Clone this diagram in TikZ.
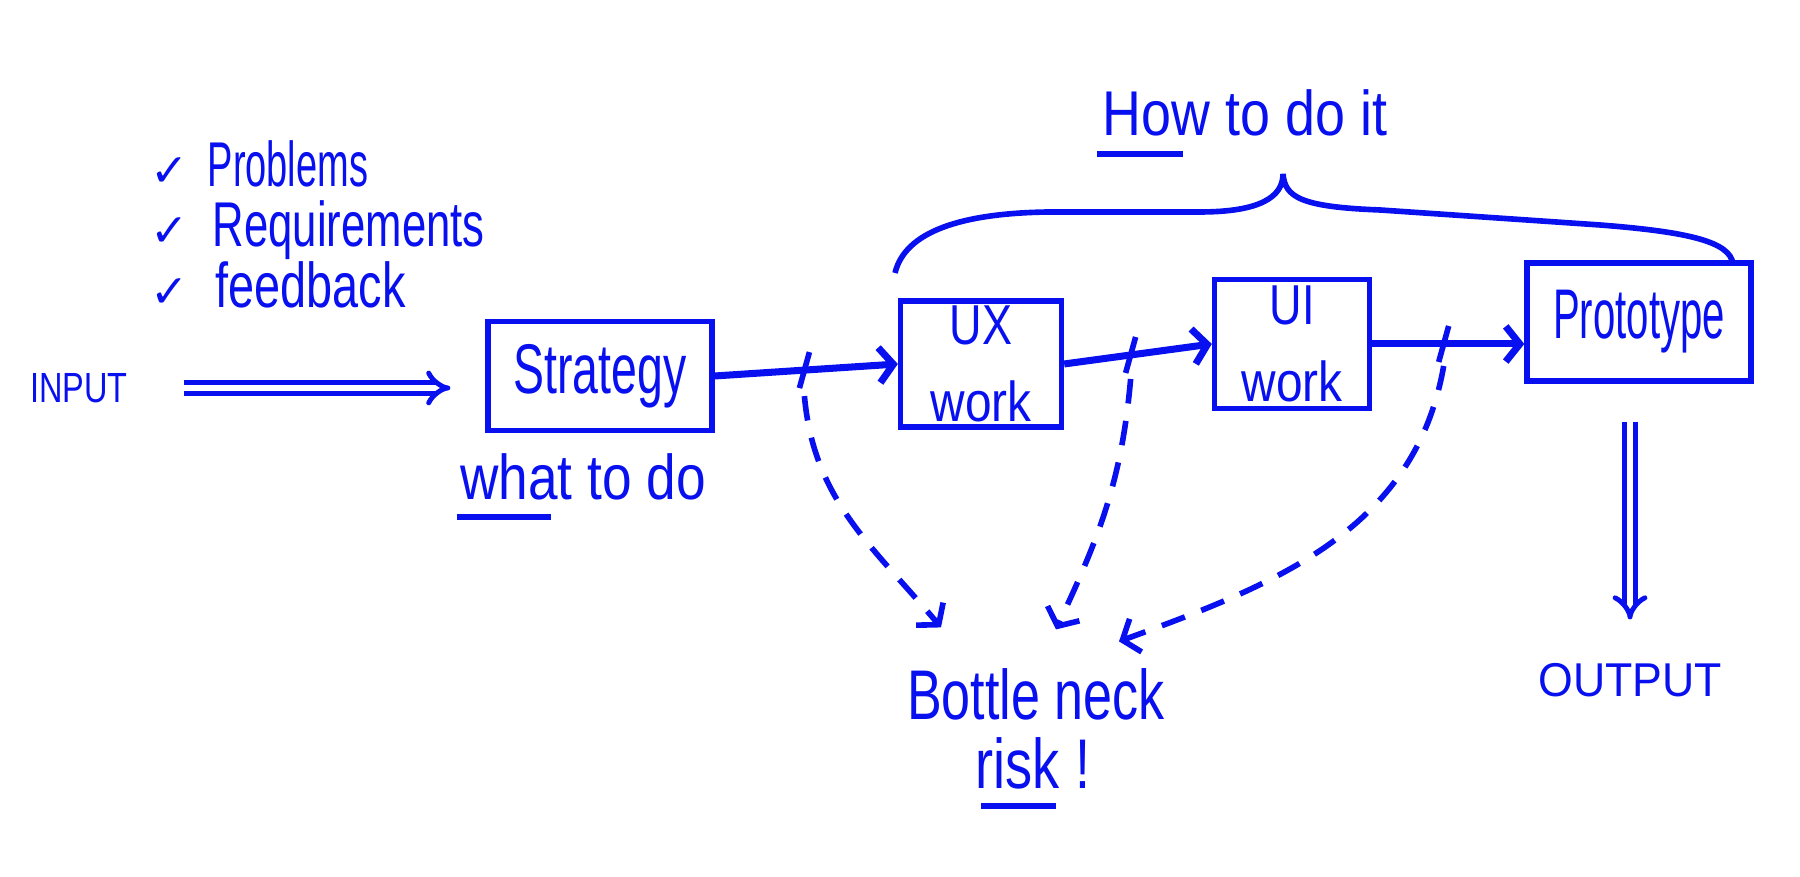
\documentclass[tikz,border=0pt]{standalone}
\usepackage{fontspec}
\setmainfont{Liberation Sans}
\newfontfamily\checkfont{DejaVu Sans}
\usetikzlibrary{calc,arrows.meta}
\definecolor{ink}{RGB}{8,16,240}
\newcommand{\handtxt}[2][0.7]{\scalebox{#1}[1]{#2}}

\begin{document}
\begin{tikzpicture}[x=0.01cm, y=0.01cm, color=ink,
  note/.style={inner sep=2pt},
  box/.style={draw, line width=1.5pt, inner sep=0pt, align=center},
  flow/.style={line width=2pt, -{Straight Barb[length=4pt,width=10pt]}},
  risky/.style={line width=1.6pt, dash pattern=on 7pt off 5pt, -{Straight Barb[length=4pt,width=10pt]}},
  bigflow/.style={double, double distance=1.8pt, line width=1.4pt, -{Implies}},
  tick/.style={line width=1.6pt}]
  \useasboundingbox (0,0) rectangle (1800,877);

  % inputs list
  \node[note, anchor=base] (c1) at (170,690) {\checkfont\fontsize{13}{13}\selectfont ✓};
  \node[note, anchor=base] (c2) at (170,630) {\checkfont\fontsize{13}{13}\selectfont ✓};
  \node[note, anchor=base] (c3) at (170,569) {\checkfont\fontsize{13}{13}\selectfont ✓};
  \node[note, anchor=base west, font=\fontsize{18}{20}\selectfont] (prob) at (200,690) {\handtxt[0.6]{Problems}};
  \node[note, anchor=base west, font=\fontsize{18}{20}\selectfont] (req) at (205,630) {\handtxt[0.69]{Requirements}};
  \node[note, anchor=base west, font=\fontsize{18}{20}\selectfont] (feed) at (208,569) {\handtxt[0.74]{feedback}};

  % main flow
  \node[note, font=\fontsize{12}{14}\selectfont] (input) at (79,489) {\handtxt[0.77]{INPUT}};
  \node[box, minimum width=2.24cm, minimum height=1.09cm, font=\fontsize{20}{24}\selectfont] (strat) at (600,501) {\handtxt[0.66]{Strategy}};
  \node[note, font=\fontsize{18}{20}\selectfont] (what) at (583,400) {\handtxt[0.84]{what to do}};
  \draw[tick] ($(what.south west)+(4,-9)$) -- ++(94,0);

  \node[box, minimum width=1.61cm, minimum height=1.26cm, font=\fontsize{16}{22}\selectfont] (ux) at (981,513) {\handtxt[0.8]{UX}\\\handtxt[0.85]{work}};
  \node[box, minimum width=1.55cm, minimum height=1.29cm, font=\fontsize{16}{22}\selectfont] (ui) at (1292,533) {\handtxt[0.8]{UI}\\\handtxt[0.85]{work}};
  \node[box, minimum width=2.24cm, minimum height=1.18cm, font=\fontsize{20}{24}\selectfont] (proto) at (1639,555) {\handtxt[0.57]{Prototype}};
  \node[note, font=\fontsize{13.5}{16}\selectfont] (output) at (1630,197) {\handtxt[0.94]{OUTPUT}};

  \draw[bigflow, shorten <=0.48cm, shorten >=0.35cm] (input.east) -- (input.east -| strat.west);
  \draw[bigflow, shorten <=0.38cm, shorten >=0.36cm] (proto.south -| output.north) -- (output.north);

  \draw[flow] (strat.east) -- coordinate[pos=0.49] (t1) (ux.west);
  \draw[flow] (ux.east) -- coordinate[pos=0.45] (t2) (ui.west);
  \draw[flow] (ui.east) -- coordinate[pos=0.47] (t3) (ui.east -| proto.west);
  \foreach \t in {t1,t2,t3}
    \draw[tick] ($(\t)+(-5,-18)$) -- ($(\t)+(5,18)$);

  % how brace
  \node[note, font=\fontsize{18}{20}\selectfont] (how) at (1245,764) {\handtxt[0.85]{How to do it}};
  \draw[tick] ($(how.south west)+(2,-10)$) -- ++(86,0);
  \draw[line width=1.6pt] (895,604) .. controls (905,645) and (960,664) .. (1050,665) -- (1200,665)
    .. controls (1260,665) and (1283,680) .. (1283,703)
    .. controls (1285,680) and (1300,670) .. (1380,667) -- (1600,652)
    .. controls (1690,645) and (1730,635) .. (1733,613);

  % bottleneck
  \node[note, font=\fontsize{20}{24}\selectfont] (bn) at (1036,183) {\handtxt[0.74]{Bottle neck}};
  \node[note, font=\fontsize{20}{24}\selectfont] (risk) at (1033,114) {\handtxt[0.77]{risk !}};
  \draw[tick] (981,71) -- (1056,71);
  \draw[risky] ($(t1)+(0,-26)$) to[out=-85, in=130] ($(bn.north)+(-95,33)$);
  \draw[risky] ($(t2)+(0,-24)$) to[out=-95, in=65] ($(bn.north)+(20,31)$);
  \draw[risky] ($(t3)+(0,-22)$) to[out=-100, in=20] ($(bn.north)+(83,19)$);
\end{tikzpicture}
\end{document}
